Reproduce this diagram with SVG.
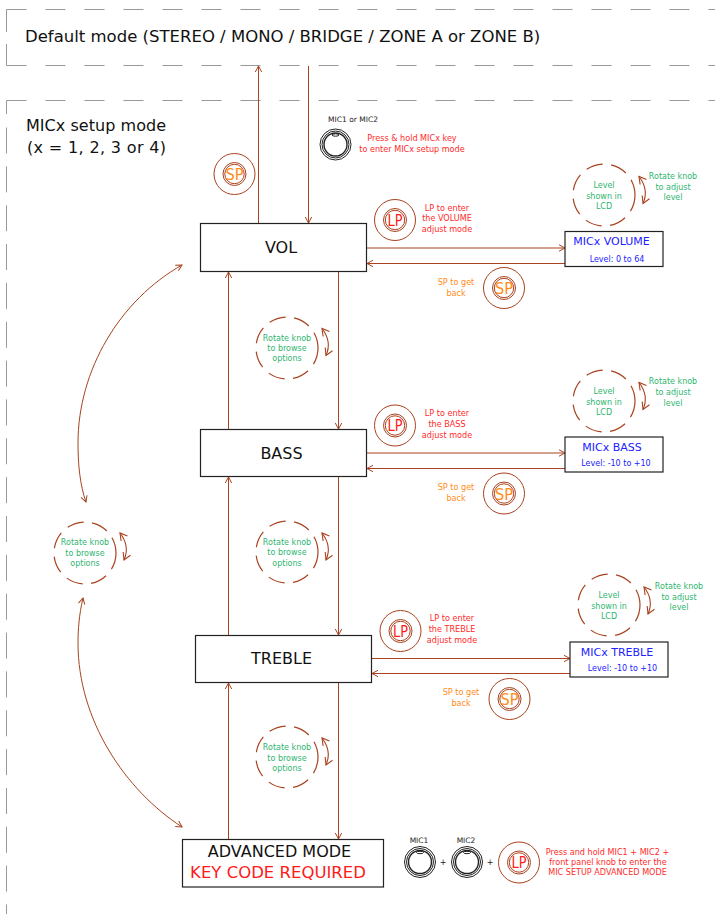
<svg xmlns="http://www.w3.org/2000/svg" width="715" height="914" viewBox="0 0 715 914">
<style>
text{font-family:"DejaVu Sans",Verdana,sans-serif;text-anchor:middle}
.l{fill:none;stroke:#a9421f;stroke-width:1}
.dash{fill:none;stroke:#999;stroke-width:1;stroke-dasharray:20 19}
.dv{fill:none;stroke:#999;stroke-width:1;stroke-dasharray:26 12.850}
.box{fill:#fff;stroke:#222;stroke-width:1.200}
.t{font-size:16px;fill:#111}
.h{font-size:16px;fill:#111;text-anchor:start}
.g{font-size:8px;fill:#2fb56f}
.r{font-size:8.100px;fill:#ff2a2a}
.o{font-size:8.100px;fill:#ff8c1a}
.b{fill:#2222ff}
.dc{fill:none;stroke:#a9421f;stroke-width:1.200;stroke-dasharray:17 8.500}
.ring{fill:none;stroke:#a9421f;stroke-width:1}
.k{fill:none;stroke:#222;stroke-width:1}
.sp{font-size:15.500px;fill:#ff8c1a}
.lp{font-size:15.500px;fill:#ff1a1a}
.sm{font-size:7.500px;fill:#222}
</style>
<defs>
<marker id="a" markerWidth="8" markerHeight="8" refX="7" refY="4" orient="auto" markerUnits="userSpaceOnUse"><path d="M1 .8L7 4L1 7.200" fill="none" stroke="#a9421f" stroke-width="1"/></marker>
<marker id="as" markerWidth="8" markerHeight="8" refX="7" refY="4" orient="auto-start-reverse" markerUnits="userSpaceOnUse"><path d="M1 .8L7 4L1 7.200" fill="none" stroke="#a9421f" stroke-width="1"/></marker>
<marker id="big" markerWidth="10" markerHeight="10" refX="8" refY="5" orient="auto-start-reverse" markerUnits="userSpaceOnUse"><path d="M1 1L8 5L1 9" fill="none" stroke="#a9421f" stroke-width="1.100"/></marker>
<g id="ring"><circle r="20.500" class="ring"/><circle r="11.500" class="ring" stroke-width="1.200"/><circle r="9.700" class="ring" stroke-width="1.200"/></g>
<g id="knob"><circle r="15.500" class="k"/><circle r="13.500" class="k"/><circle r="11.500" class="k" style="stroke-width:1.400"/><ellipse cy="-9.500" rx="3.500" ry="1.200" class="k"/></g>
<path id="rot" class="l" d="M0 0C7 9 8 18 4 27" marker-start="url(#big)" marker-end="url(#big)" style="stroke-width:1.100"/>
</defs>

<g id="frames">
<path class="dash" d="M6.500 9.500H715M6.500 65.500H715M6.500 100.500H715"/>
<path style="fill:none;stroke:#999" d="M6.500 9.500V32M6.500 44V65.500M6.500 100.500V114"/>
<path class="dv" d="M6.500 127.500V914"/>
<text x="25" y="41.500" class="h" style="font-size:16.500px">Default mode (STEREO / MONO / BRIDGE / ZONE A or ZONE B)</text>
<text x="26" y="131" class="h" textLength="140">MICx setup mode</text>
<text x="27" y="153" class="h" textLength="139">(x = 1, 2, 3 or 4)</text>
</g>

<g id="connectors">
<path class="l" d="M258.500 223V66" marker-end="url(#a)"/>
<path class="l" d="M308.500 66V223" marker-end="url(#a)"/>
<path class="l" d="M228.500 429V272" marker-end="url(#a)"/>
<path class="l" d="M338.500 272V429" marker-end="url(#a)"/>
<path class="l" d="M228.500 635V477" marker-end="url(#a)"/>
<path class="l" d="M338.500 477V635" marker-end="url(#a)"/>
<path class="l" d="M228.500 839V683" marker-end="url(#a)"/>
<path class="l" d="M338.500 683V839" marker-end="url(#a)"/>
<path class="l" d="M366 248H565" marker-end="url(#a)"/>
<path class="l" d="M565 263.500H367" marker-end="url(#a)"/>
<path class="l" d="M366 453H565" marker-end="url(#a)"/>
<path class="l" d="M565 468.500H367" marker-end="url(#a)"/>
<path class="l" d="M371 658.500H570" marker-end="url(#a)"/>
<path class="l" d="M570 673.500H372" marker-end="url(#a)"/>
<path class="l" d="M182 265C120 300 78 370 78 443C78 465 80 485 86 502" marker-start="url(#as)" marker-end="url(#as)"/>
<path class="l" d="M83 598C79 615 78 630 78 643C78 720 125 790 182 827" marker-start="url(#as)" marker-end="url(#as)"/>
</g>

<g id="node-vol"><rect class="box" x="200.500" y="223.500" width="166" height="48"/><text x="281" y="253" class="t">VOL</text></g>
<g id="node-bass"><rect class="box" x="200.500" y="429.500" width="166" height="47"/><text x="281.500" y="459" class="t">BASS</text></g>
<g id="node-treble"><rect class="box" x="195.500" y="635.500" width="176" height="47"/><text x="281.500" y="664" class="t">TREBLE</text></g>
<g id="node-advanced"><rect class="box" x="182.500" y="839.500" width="201" height="47.500"/><text x="279.500" y="857" class="t">ADVANCED MODE</text><text x="278" y="878" class="t" style="font-size:16.500px;fill:#ff1a1a">KEY CODE REQUIRED</text></g>

<g id="node-mic-volume"><rect class="box" x="565" y="231.500" width="98" height="35"/><text x="611.500" y="245" class="b" style="font-size:11px">MICx VOLUME</text><text x="617" y="262" class="b" style="font-size:8px">Level: 0 to 64</text></g>
<g id="node-mic-bass"><rect class="box" x="565" y="437" width="98" height="35"/><text x="612" y="451" class="b" style="font-size:11px">MICx BASS</text><text x="616" y="466" class="b" style="font-size:8px">Level: -10 to +10</text></g>
<g id="node-mic-treble"><rect class="box" x="570" y="642" width="98" height="35"/><text x="617" y="656" class="b" style="font-size:11px">MICx TREBLE</text><text x="622.500" y="671" class="b" style="font-size:8px">Level: -10 to +10</text></g>

<g id="node-knob-top"><use href="#knob" x="335.500" y="144.500"/><text x="353" y="122" class="sm">MIC1 or MIC2</text><text x="412" y="141" class="r">Press &amp; hold MICx key</text><text x="412" y="152" class="r">to enter MICx setup mode</text></g>

<g id="node-sp-top"><use href="#ring" x="234.500" y="174"/><text x="234.500" y="180" class="sp" textLength="18" lengthAdjust="spacingAndGlyphs">SP</text></g>
<g id="node-lp-vol"><use href="#ring" x="395" y="220"/><text x="395" y="225.500" class="lp" textLength="15" lengthAdjust="spacingAndGlyphs">LP</text><text x="447" y="211" class="r">LP to enter</text><text x="447" y="221" class="r">the VOLUME</text><text x="447" y="232" class="r">adjust mode</text></g>
<g id="node-sp-vol"><use href="#ring" x="504" y="288"/><text x="504" y="294" class="sp" textLength="18" lengthAdjust="spacingAndGlyphs">SP</text><text x="456" y="285" class="o">SP to get</text><text x="456" y="296" class="o">back</text></g>
<g id="node-lp-bass"><use href="#ring" x="395" y="425.500"/><text x="395" y="431" class="lp" textLength="15" lengthAdjust="spacingAndGlyphs">LP</text><text x="447" y="416" class="r">LP to enter</text><text x="447" y="427" class="r">the BASS</text><text x="447" y="438" class="r">adjust mode</text></g>
<g id="node-sp-bass"><use href="#ring" x="504" y="493.500"/><text x="504" y="499.500" class="sp" textLength="18" lengthAdjust="spacingAndGlyphs">SP</text><text x="456" y="490" class="o">SP to get</text><text x="456" y="501" class="o">back</text></g>
<g id="node-lp-treble"><use href="#ring" x="400.500" y="631"/><text x="400.500" y="636.500" class="lp" textLength="15" lengthAdjust="spacingAndGlyphs">LP</text><text x="452" y="621" class="r">LP to enter</text><text x="452" y="632" class="r">the TREBLE</text><text x="452" y="643" class="r">adjust mode</text></g>
<g id="node-sp-treble"><use href="#ring" x="509.500" y="699"/><text x="509.500" y="705" class="sp" textLength="18" lengthAdjust="spacingAndGlyphs">SP</text><text x="461" y="695" class="o">SP to get</text><text x="461" y="706" class="o">back</text></g>

<g id="node-browse-1"><circle class="dc" cx="287" cy="348" r="31"/><use href="#rot" x="322" y="328.500"/><text x="287" y="341" class="g">Rotate knob</text><text x="287" y="351" class="g">to browse</text><text x="287" y="361" class="g">options</text></g>
<g id="node-browse-2"><circle class="dc" cx="287" cy="552" r="31"/><use href="#rot" x="322" y="533"/><text x="287" y="545" class="g">Rotate knob</text><text x="287" y="555" class="g">to browse</text><text x="287" y="566" class="g">options</text></g>
<g id="node-browse-3"><circle class="dc" cx="287" cy="757" r="31"/><use href="#rot" x="322" y="738"/><text x="287" y="750" class="g">Rotate knob</text><text x="287" y="761" class="g">to browse</text><text x="287" y="771" class="g">options</text></g>
<g id="node-browse-4"><circle class="dc" cx="85" cy="553" r="31"/><use href="#rot" x="120" y="533"/><text x="85" y="545" class="g">Rotate knob</text><text x="85" y="556" class="g">to browse</text><text x="85" y="566" class="g">options</text></g>

<g id="node-level-vol"><circle class="dc" cx="604" cy="195" r="31"/><use href="#rot" x="639" y="176.500"/><text x="604" y="188" class="g">Level</text><text x="604" y="199" class="g">shown in</text><text x="604" y="209" class="g">LCD</text><text x="673" y="179" class="g">Rotate knob</text><text x="673" y="190" class="g">to adjust</text><text x="673" y="200" class="g">level</text></g>
<g id="node-level-bass"><circle class="dc" cx="604" cy="401" r="31"/><use href="#rot" x="639" y="382.500"/><text x="604" y="394" class="g">Level</text><text x="604" y="405" class="g">shown in</text><text x="604" y="415" class="g">LCD</text><text x="673" y="384" class="g">Rotate knob</text><text x="673" y="395" class="g">to adjust</text><text x="673" y="406" class="g">level</text></g>
<g id="node-level-treble"><circle class="dc" cx="609" cy="605" r="31"/><use href="#rot" x="644" y="587"/><text x="609" y="598" class="g">Level</text><text x="609" y="609" class="g">shown in</text><text x="609" y="619" class="g">LCD</text><text x="679" y="589" class="g">Rotate knob</text><text x="679" y="600" class="g">to adjust</text><text x="679" y="610" class="g">level</text></g>

<g id="node-advanced-keys">
<use href="#knob" x="420" y="862"/><text x="419" y="843" class="sm">MIC1</text>
<text x="443" y="865" class="sm" style="font-size:8px">+</text>
<use href="#knob" x="467" y="862"/><text x="466" y="843" class="sm">MIC2</text>
<text x="490" y="865" class="sm" style="font-size:8px">+</text>
<use href="#ring" x="519" y="862.500"/><text x="519" y="868" class="lp" textLength="15" lengthAdjust="spacingAndGlyphs">LP</text>
<text x="607.500" y="855" class="r">Press and hold MIC1 + MIC2 +</text><text x="608" y="865" class="r">front panel knob to enter the</text><text x="607.500" y="875" class="r">MIC SETUP ADVANCED MODE</text>
</g>
</svg>
